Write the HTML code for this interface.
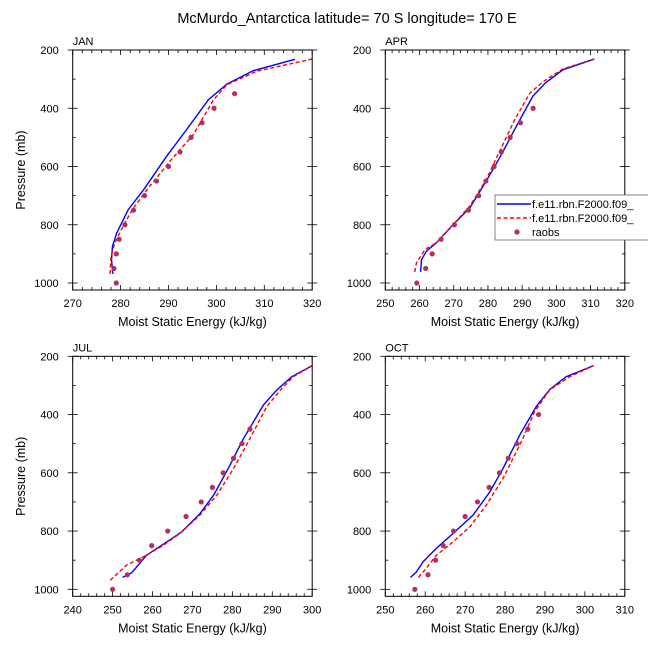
<!DOCTYPE html>
<html><head><meta charset="utf-8"><style>
body{margin:0;background:#fff;}
svg{display:block;font-family:"Liberation Sans",sans-serif;}
</style></head><body>
<svg id="c" width="648" height="649" viewBox="0 0 648 649" xmlns="http://www.w3.org/2000/svg">
<text x="347" y="23" font-size="14.5" text-anchor="middle">McMurdo_Antarctica  latitude= 70 S longitude= 170 E</text>
</svg>
<script>
const panelNames=["JAN","APR","JUL","OCT"];
const xMins=[270,250,240,250];
const xMaxs=[320,320,300,310];
const janBlueX=[278.4,278.1,278.3,279.2,281.6,284.8,289.6,293.8,298.3,302.2,307.7,316.4];
const janBlueP=[969,920,874,828,748,680,565,473,371,317,271,232];
const janRedX=[277.8,278.0,278.8,280.9,282.7,285.5,290.3,295.2,299.4,302.2,308.4,320];
const janRedP=[969,910,862,793,742,680,582,490,371,319,273,231];
const janObsX=[279.1,278.6,279.1,279.7,280.9,282.7,285,287.5,290,292.4,294.7,297,299.5,303.8];
const janObsP=[1000,950,900,850,800,750,700,650,600,550,500,450,400,350];
const aprBlueX=[260.3,260.6,262,264.9,269.8,274.7,280,283.9,288.3,293.1,296.8,301.9,311.1];
const aprBlueP=[962,920,891,862,800,742,640,560,462,359,313,268,231];
const aprRedX=[258.6,259.1,261.6,264.9,269.8,274.7,279.5,283.4,287.8,292.2,296.1,301.9,311.1];
const aprRedP=[962,931,885,862,800,736,645,548,440,349,309,265,231];
const aprObsX=[259.2,261.8,263.7,266.3,270.2,274.3,277.3,279.4,281.8,283.9,286.5,289.5,293.2];
const aprObsP=[1000,950,900,850,800,750,700,650,600,550,500,450,400];
const julBlueX=[252.5,254.8,258.5,263.6,267.3,271.9,275.3,279.4,282.8,287.8,291.1,294.9,300];
const julBlueP=[959,943,883,837,803,740,677,574,482,367,316,270,232];
const julRedX=[249.4,253.5,258.5,262.7,266.9,271.9,276.1,280.3,284.0,288.6,292.4,295.3,300];
const julRedP=[969,917,883,849,808,745,677,585,493,373,310,270,232];
const julObsX=[250,253.7,256.7,259.8,263.8,268.4,272.2,275.0,277.7,280.3,282.4,284.4];
const julObsP=[1000,950,900,850,800,750,700,650,600,550,500,450];
const octBlueX=[256.3,257.7,259.5,262.8,267,272,276.2,279.5,283.7,287.8,291.2,295.3,302.2];
const octBlueP=[959,942,905,859,808,745,665,585,470,373,314,270,232];
const octRedX=[258.3,259.9,262.8,267,271.2,275.3,279.5,284.1,287.4,291.2,296.2,302.2];
const octRedP=[959,934,883,837,785,711,619,493,390,315,270,232];
const octObsX=[257.4,260.7,262.6,264.5,267.1,270,273.1,276,278.6,280.8,283.0,285.7,288.4];
const octObsP=[1000,950,900,850,800,750,700,650,600,550,500,450,400];
const yTicks=[200,400,600,800,1000];

const series=[
 [janBlueX,janBlueP,janRedX,janRedP,janObsX,janObsP],
 [aprBlueX,aprBlueP,aprRedX,aprRedP,aprObsX,aprObsP],
 [julBlueX,julBlueP,julRedX,julRedP,julObsX,julObsP],
 [octBlueX,octBlueP,octRedX,octRedP,octObsX,octObsP]];
const NS="http://www.w3.org/2000/svg";
const svg=document.getElementById('c');
function mk(tag,attrs,parent){const e=document.createElementNS(NS,tag);for(const k in attrs)e.setAttribute(k,attrs[k]);(parent||svg).appendChild(e);return e;}
const boxes=[[72.7,50],[385.3,50],[72.7,356.3],[385.3,356.3]];
const W=239.5,H=240;
for(let i=0;i<4;i++){
 const [L,T]=boxes[i];
 const g=mk('g',{});
 
 
 const x0=xMins[i],x1=xMaxs[i];
 const sx=v=>L+(v-x0)/(x1-x0)*W;
 const sy=p=>T+(p-200)/800*233;
 const t=mk('text',{x:L,y:T-5,'font-size':11},g);t.textContent=panelNames[i];
 
 
 // x ticks
 for(let v=x0;v<=x1+0.001;v+=2){
  const major=Math.abs((v-x0)%10)<0.001;
  const len=major?5:3;
  const X=sx(v);
  mk('line',{x1:X,x2:X,y1:T+H,y2:T+H-len,stroke:'#000','stroke-width':0.8},g);
  mk('line',{x1:X,x2:X,y1:T,y2:T+len,stroke:'#000','stroke-width':0.8},g);
  if(major){const tl=mk('text',{x:X,y:T+H+17,'font-size':11,'text-anchor':'middle'},g);tl.textContent=v;
   
   }
 }
 for(let p=200;p<=1000;p+=100){
  const major=yTicks.includes(p);
  const Y=sy(p);const len=major?5:3;
  mk('line',{x1:L-(major?5:0),x2:L+len,y1:Y,y2:Y,stroke:'#000','stroke-width':0.8},g);
  mk('line',{x1:L+W-len,x2:L+W+(major?5:0),y1:Y,y2:Y,stroke:'#000','stroke-width':0.8},g);
  if(major){const tl=mk('text',{x:L-14,y:Y+4,'font-size':11,'text-anchor':'end'},g);tl.textContent=p;
   
   }
 }
 const xt=mk('text',{x:L+W/2,y:T+H+36,'font-size':12.5,'text-anchor':'middle'},g);xt.textContent='Moist Static Energy (kJ/kg)';
 
 
 if(i%2==0){const yt=mk('text',{x:0,y:0,'font-size':12.5,'text-anchor':'middle',transform:`translate(25,${T+H/2}) rotate(-90)`},g);yt.textContent='Pressure (mb)';
  
  }
 const [bx,bp,rx,rp,ox,op]=series[i];
 const b=mk('polyline',{points:bx.map((v,k)=>sx(v)+','+sy(bp[k])).join(' '),fill:'none',stroke:'#0000ff','stroke-width':1.4},g);
 
 
 const r=mk('polyline',{points:rx.map((v,k)=>sx(v)+','+sy(rp[k])).join(' '),fill:'none',stroke:'#ff0000','stroke-width':1.4,'stroke-dasharray':'4,2.5'},g);
 
 
 ox.forEach((v,k)=>{const c=mk('circle',{cx:sx(v),cy:sy(op[k]),r:2.6,fill:'#b03060'},g);
  
  });
 mk('rect',{x:L,y:T,width:W,height:H,fill:'none',stroke:'#000','stroke-width':1},g);
}
// legend
const lg=mk('g',{});


mk('rect',{x:495,y:195,width:160,height:45,fill:'#fff',stroke:'#666','stroke-width':0.8},lg);
mk('line',{x1:497,x2:531,y1:204,y2:204,stroke:'#0000ff','stroke-width':1.4},lg);
mk('line',{x1:497,x2:531,y1:218,y2:218,stroke:'#ff0000','stroke-width':1.4,'stroke-dasharray':'4,2.5'},lg);
mk('circle',{cx:517,cy:232,r:2.6,fill:'#b03060'},lg);
const labs=['f.e11.rbn.F2000.f09_','f.e11.rbn.F2000.f09_','raobs'];
labs.forEach((s,k)=>{const t=mk('text',{x:532,y:208+k*14,'font-size':11},lg);t.textContent=s;
 
 });
</script>
</body></html>
